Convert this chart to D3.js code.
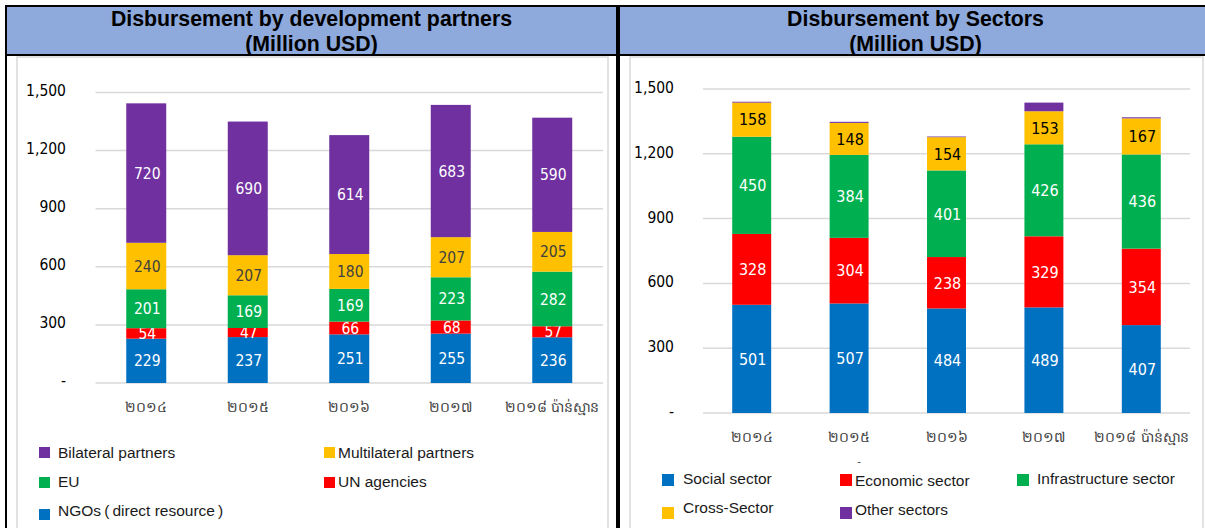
<!DOCTYPE html>
<html>
<head>
<meta charset="utf-8">
<script src="https://cdn.jsdelivr.net/npm/d3@7"></script>
<style>
  body { margin: 0; background: #fff; }
  svg { display: block; }
</style>
</head>
<body>
<svg id="chart" width="1205" height="528"></svg>
<script>
const years = ["២០១៤", "២០១៥", "២០១៦", "២០១៧", "២០១៨ ប៉ាន់ស្មាន"];
const yTicks = [0, 300, 600, 900, 1200, 1500];

// by development partners (bottom to top)
const ngos = [229, 237, 251, 255, 236];
const unAgencies = [54, 47, 66, 68, 57];
const eu = [201, 169, 169, 223, 282];
const multilateral = [240, 207, 180, 207, 205];
const bilateral = [720, 690, 614, 683, 590];

// by sectors (bottom to top)
const social = [501, 507, 484, 489, 407];
const economic = [328, 304, 238, 329, 354];
const infrastructure = [450, 384, 401, 426, 436];
const crossSector = [158, 148, 154, 153, 167];
const otherSectors = [4, 5, 3, 40, 5];

const C = { purple: "#7030A0", yellow: "#FFC000", green: "#00B050", red: "#FF0000", blue: "#0070C0" };
const numFont = "'DejaVu Sans Condensed', 'DejaVu Sans', sans-serif";
const khFont = "'DejaVu Sans', 'Noto Sans', sans-serif";
const txtFont = "'Liberation Sans', Arial, sans-serif";

const svg = d3.select("#chart");

// table frames + headers
function frame(x0, x1, title) {
  svg.append("rect").attr("x", x0).attr("y", 7).attr("width", x1 - x0).attr("height", 47)
    .attr("fill", "#8EA9DB");
  svg.append("rect").attr("x", x0 + 11).attr("y", 57).attr("width", x1 - x0 - 20).attr("height", 480)
    .attr("fill", "#fff").attr("stroke", "#d9d9d9").attr("stroke-width", 1.5);
  svg.append("path")
    .attr("d", `M${x0},540 V6 H${x1} V540 M${x0},55 H${x1}`)
    .attr("fill", "none").attr("stroke", "#000").attr("stroke-width", 2);
  const cx = (x0 + x1) / 2;
  const t = svg.append("text").attr("text-anchor", "middle")
    .style("font-family", txtFont).style("font-weight", "bold").style("font-size", "21.3px").attr("fill", "#000");
  t.append("tspan").attr("x", cx).attr("y", 25.5).text(title);
  t.append("tspan").attr("x", cx).attr("y", 50.5).text("(Million USD)");
}
frame(6, 617, "Disbursement by development partners");
frame(619, 1212, "Disbursement by Sectors");

function stackedChart(cfg) {
  const x = d3.scaleBand().domain(years).range(cfg.xRange)
    .paddingInner(cfg.padIn).paddingOuter(cfg.padIn / 2);
  const y = d3.scaleLinear().domain([0, 1500]).range(cfg.yRange);

  const g = svg.append("g");

  // gridlines
  g.selectAll(".grid").data(yTicks).join("line")
    .attr("x1", cfg.xRange[0]).attr("x2", cfg.xRange[1])
    .attr("y1", d => y(d)).attr("y2", d => y(d))
    .attr("stroke", "#d9d9d9").attr("stroke-width", 1.5);

  // y labels
  g.selectAll(".ylab").data(yTicks).join("text")
    .attr("x", cfg.labelX).attr("y", d => y(d) - cfg.labelLift).attr("dy", "0.36em")
    .attr("text-anchor", "end")
    .style("font-family", numFont).style("font-size", "15.5px").attr("fill", "#000")
    .text(d => d === 0 ? "-" : d3.format(",")(d));

  // x labels
  g.selectAll(".xlab").data(years).join("text")
    .attr("x", d => x(d) + x.bandwidth() / 2).attr("y", cfg.xLabelY).attr("dy", "0.36em")
    .attr("text-anchor", "middle")
    .style("font-family", khFont).style("font-size", "14px").attr("fill", "#404040")
    .text(d => d);

  const rows = years.map((yr, i) => {
    const r = { year: yr };
    cfg.series.forEach(s => r[s.name] = s.values[i]);
    return r;
  });
  const stack = d3.stack().keys(cfg.series.map(s => s.name))(rows);

  stack.forEach((layer, li) => {
    const s = cfg.series[li];
    const lg = g.append("g");
    lg.selectAll("rect").data(layer).join("rect")
      .attr("x", d => x(d.data.year))
      .attr("width", x.bandwidth())
      .attr("y", d => y(d[1]))
      .attr("height", d => y(d[0]) - y(d[1]))
      .attr("fill", s.color);
    if (s.label) {
      lg.selectAll("text").data(layer).join("text")
        .attr("x", d => x(d.data.year) + x.bandwidth() / 2 + 1)
        .attr("y", d => (y(d[0]) + y(d[1])) / 2).attr("dy", "0.36em")
        .attr("text-anchor", "middle")
        .style("font-family", numFont).style("font-size", cfg.valueSize).attr("fill", s.label)
        .text(d => d[1] - d[0]);
    }
  });

  // legend
  cfg.legend.forEach(item => {
    const s = cfg.series.find(d => d.name === item.name);
    svg.append("rect").attr("x", item.sx).attr("y", item.sy).attr("width", cfg.sq).attr("height", cfg.sq)
      .attr("fill", s.color);
    svg.append("text").attr("x", item.tx).attr("y", item.ty).attr("dy", "0.36em")
      .style("font-family", txtFont).style("font-size", "15.5px").attr("fill", "#1a1a1a")
      .text(item.name);
  });
}

stackedChart({
  xRange: [95.5, 603], padIn: 0.606, yRange: [383, 92.5], labelX: 66, labelLift: 2.5, xLabelY: 407, valueSize: "15.5px",
  series: [
    { name: "NGOs\u2009(\u2009direct resource\u2009)", values: ngos, color: C.blue, label: "#fff" },
    { name: "UN agencies", values: unAgencies, color: C.red, label: "#fff" },
    { name: "EU", values: eu, color: C.green, label: "#fff" },
    { name: "Multilateral partners", values: multilateral, color: C.yellow, label: "#404040" },
    { name: "Bilateral partners", values: bilateral, color: C.purple, label: "#fff" }
  ],
  sq: 11,
  legend: [
    { name: "Bilateral partners", sx: 39, sy: 447, tx: 58, ty: 452 },
    { name: "Multilateral partners", sx: 324, sy: 447, tx: 338, ty: 452 },
    { name: "EU", sx: 39, sy: 477, tx: 58, ty: 481 },
    { name: "UN agencies", sx: 324, sy: 477, tx: 338, ty: 481 },
    { name: "NGOs\u2009(\u2009direct resource\u2009)", sx: 39, sy: 509, tx: 58, ty: 510 }
  ]
});

stackedChart({
  xRange: [703, 1190], padIn: 0.6, yRange: [413, 89], labelX: 674, labelLift: 1.5, xLabelY: 437, valueSize: "16px",
  series: [
    { name: "Social sector", values: social, color: C.blue, label: "#fff" },
    { name: "Economic sector", values: economic, color: C.red, label: "#fff" },
    { name: "Infrastructure sector", values: infrastructure, color: C.green, label: "#fff" },
    { name: "Cross-Sector", values: crossSector, color: C.yellow, label: "#000" },
    { name: "Other sectors", values: otherSectors, color: C.purple, label: null }
  ],
  sq: 12,
  legend: [
    { name: "Social sector", sx: 662, sy: 474, tx: 683, ty: 478 },
    { name: "Economic sector", sx: 840, sy: 474, tx: 855, ty: 480 },
    { name: "Infrastructure sector", sx: 1017, sy: 474, tx: 1037, ty: 478 },
    { name: "Cross-Sector", sx: 662, sy: 507, tx: 683, ty: 507 },
    { name: "Other sectors", sx: 840, sy: 507, tx: 855, ty: 509 }
  ]
});

// stray dash above the sector legend
svg.append("text").attr("x", 859).attr("y", 465).attr("text-anchor", "middle")
  .style("font-family", txtFont).style("font-size", "11px").attr("fill", "#404040").text("-");
</script>
</body>
</html>
